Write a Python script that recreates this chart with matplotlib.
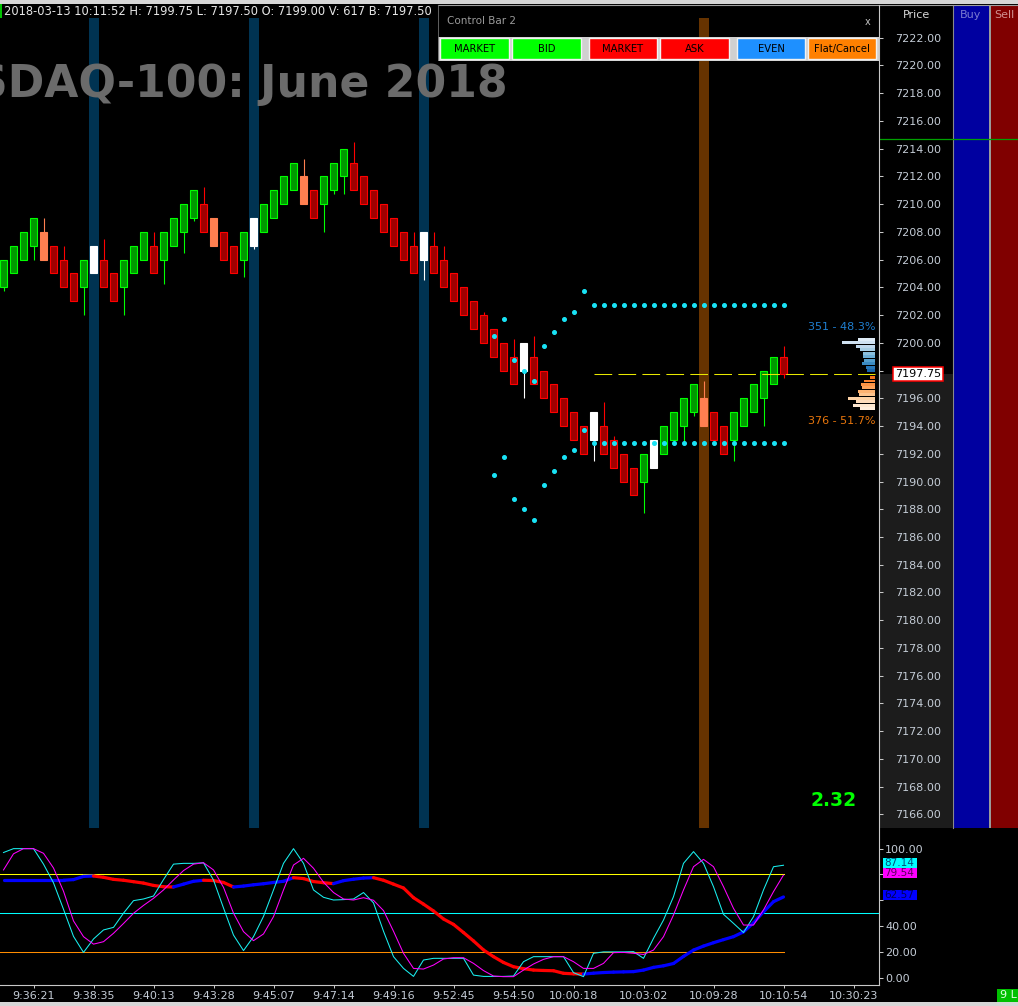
import numpy as np
import matplotlib
matplotlib.use("Agg")
import matplotlib.pyplot as plt
from matplotlib.patches import Rectangle
from matplotlib.collections import LineCollection
from matplotlib.transforms import blended_transform_factory

plt.rcParams['font.family'] = ['DejaVu Sans']

W, H = 1018, 1006

# ---- header info ----
stamp = "2018-03-13 10:11:52"
last_volume = 617
bid_price = 7197.50
chart_title = "NASDAQ-100: June 2018"
ratio_value = 2.32

# ---- renko bars (open / close / high / low) ----
opens = [7204, 7205, 7206, 7207, 7208, 7207, 7206, 7205, 7204, 7205,
         7206, 7205, 7204, 7205, 7206, 7207, 7206, 7207, 7208, 7209,
         7210, 7209, 7208, 7207, 7206, 7207, 7208, 7209, 7210, 7211,
         7212, 7211, 7210, 7211, 7212, 7213, 7212, 7211, 7210, 7209,
         7208, 7207, 7206, 7207, 7206, 7205, 7204, 7203, 7202, 7201,
         7200, 7199, 7198, 7199, 7198, 7197, 7196, 7195, 7194, 7193,
         7194, 7193, 7192, 7191, 7190, 7191, 7192, 7193, 7194, 7195,
         7196, 7195, 7194, 7193, 7194, 7195, 7196, 7197, 7199]
closes = [7206, 7207, 7208, 7209, 7206, 7205, 7204, 7203, 7206, 7207,
          7204, 7203, 7206, 7207, 7208, 7205, 7208, 7209, 7210, 7211,
          7208, 7207, 7206, 7205, 7208, 7209, 7210, 7211, 7212, 7213,
          7210, 7209, 7212, 7213, 7214, 7211, 7210, 7209, 7208, 7207,
          7206, 7205, 7208, 7205, 7204, 7203, 7202, 7201, 7200, 7199,
          7198, 7197, 7200, 7197, 7196, 7195, 7194, 7193, 7192, 7195,
          7192, 7191, 7190, 7189, 7192, 7193, 7194, 7195, 7196, 7197,
          7194, 7193, 7192, 7195, 7196, 7197, 7198, 7199, 7197.75]
highs = [7206, 7207, 7208, 7209, 7209, 7207, 7207, 7205, 7206, 7207,
         7207.5, 7205, 7206, 7207, 7208, 7208, 7208, 7209, 7210, 7211,
         7211.25, 7209, 7208, 7207, 7208, 7209, 7210, 7211, 7212, 7213,
         7213.25, 7211, 7212, 7213, 7214, 7214.5, 7212, 7211, 7210, 7209,
         7208, 7208, 7208, 7208, 7207, 7205, 7204, 7203, 7202.25, 7201,
         7200, 7200.25, 7200, 7200.5, 7198, 7197, 7196, 7195, 7194, 7195,
         7195.75, 7193.25, 7192, 7191, 7192, 7193, 7194, 7195, 7196, 7197,
         7197.25, 7195, 7194, 7195, 7196, 7197, 7198, 7199, 7199.75]
lows = [7203.75, 7205, 7206, 7206, 7206, 7205, 7204, 7203, 7202, 7205,
        7204, 7203, 7202, 7205, 7206, 7205, 7204.25, 7207, 7206.5, 7208.75,
        7208, 7207, 7206, 7205, 7204.75, 7206.75, 7208, 7209, 7210, 7211,
        7210, 7209, 7208, 7210.75, 7210.75, 7211, 7210, 7209, 7208, 7207,
        7206, 7205, 7204.5, 7205, 7204, 7203, 7202, 7201, 7200, 7199,
        7198, 7197, 7196, 7197, 7196, 7195, 7194, 7193, 7192, 7191.5,
        7192, 7191, 7190, 7189, 7187.75, 7191, 7192, 7193, 7192.75, 7194.75,
        7194, 7193, 7192, 7191.5, 7194, 7195, 7194, 7197, 7197.5]
white_bars = [9, 25, 42, 52, 59, 65]
orange_bars = [4, 21, 30, 70]
blue_bands = [9, 25, 42]
brown_bands = [70]

# ---- cyan channel dots ----
channel_idx = [49, 50, 51, 52, 53, 54, 55, 56, 57, 58]
channel_upper = [7200.5, 7201.75, 7198.75, 7198.0, 7197.25,
                 7199.75, 7200.75, 7201.75, 7202.25, 7203.75]
channel_lower = [7190.5, 7191.75, 7188.75, 7188.0, 7187.25,
                 7189.75, 7190.75, 7191.75, 7192.25, 7193.75]
level_idx = [59, 60, 61, 62, 63, 64, 65, 66, 67, 68,
             69, 70, 71, 72, 73, 74, 75, 76, 77, 78]
level_upper = [7202.75] * 20
level_lower = [7192.75] * 20

# ---- volume profile ----
buy_levels = [7200.25, 7200.0, 7199.75, 7199.5, 7199.25,
              7199.0, 7198.75, 7198.5, 7198.25, 7198.0]
buy_volume = [40, 78, 44, 35, 28, 29, 27, 30, 22, 18]
sell_levels = [7197.5, 7197.25, 7197.0, 7196.75, 7196.5,
               7196.25, 7196.0, 7195.75, 7195.5, 7195.25]
sell_volume = [13, 25, 34, 30, 40, 38, 64, 45, 52, 35]

# ---- oscillator ----
stoch_k = [97, 100, 100, 100, 88, 73.5, 53, 32, 19.6, 30,
           37, 39, 50, 59.7, 61, 63.3, 76, 88, 88.6, 88.6,
           89, 75.7, 54, 33, 21, 31.8, 47.5, 68, 88.6, 100,
           88.6, 68, 62.3, 60.2, 60.5, 61, 66, 58, 36, 16.3,
           7.2, 1, 13.7, 15, 15, 15, 15, 2, 1, 1,
           1, 1.3, 12.4, 16.3, 16.3, 16.3, 16.3, 3.9, 0.8, 18.9,
           20, 20, 20, 20.2, 15, 30.5, 44.7, 62.8, 88.6, 97.7,
           88.6, 70.5, 49.1, 42.1, 35, 47.3, 68, 86, 87.14]
stoch_d = [83.5, 96, 100, 100, 96.4, 85, 67, 44, 31.8, 26,
           27.9, 34.4, 42, 49.9, 56, 61.5, 68, 75.7, 83, 88,
           89.1, 83.5, 70, 50, 35.7, 28.7, 33.9, 47.3, 68, 87.3,
           92.5, 84.8, 74, 66, 61, 60.2, 62, 60, 52, 36,
           18.9, 7.2, 6.7, 9.8, 14.5, 15.5, 15.5, 11.1, 5.5, 1.3,
           0.8, 0.8, 5.9, 10.6, 14.2, 16.3, 16.3, 12.4, 7.2, 7.2,
           11.1, 19.4, 19.6, 18.9, 18, 21.4, 31.8, 48.6, 68, 86,
           91.7, 86, 70.5, 53.7, 40.8, 40.8, 52.5, 66.7, 79.54]
trend = [75.5, 75.5, 75.5, 75.5, 75.5, 75.5, 75.5, 76.0, 78.5, 78.8,
         77.8, 76.2, 75.5, 74.4, 73.3, 71.5, 70.5, 70.3, 72.5, 74.7,
         75.5, 75.3, 73.8, 70.3, 71.0, 72.0, 72.8, 73.8, 74.7, 77.5,
         76.8, 74.5, 73.6, 72.9, 75.2, 76.3, 77.2, 77.5, 75.5, 72.5,
         69.5, 62.0, 57.0, 51.7, 45.5, 41.3, 35.0, 28.5, 21.5, 16.3,
         11.8, 8.5, 7.0, 5.9, 5.6, 5.4, 3.4, 3.0, 2.8, 3.5,
         4.0, 4.3, 4.5, 4.7, 5.9, 8.0, 9.2, 11.0, 16.5, 21.4,
         24.5, 27.1, 29.5, 31.8, 35.5, 42.5, 51.0, 58.9, 62.57]

time_tick_idx = [3, 9, 15, 21, 27, 33, 39, 45, 51, 57, 64, 71, 78, 85]
time_labels = ["9:36:21", "9:38:35", "9:40:13", "9:43:28", "9:45:07",
               "9:47:14", "9:49:16", "9:52:45", "9:54:50", "10:00:18",
               "10:03:02", "10:09:28", "10:10:54", "10:30:23"]
price_ticks = list(range(7166, 7223, 2))
osc_ticks = [0, 20, 40, 60, 80, 100]
osc_levels = [80, 50, 20]

button_labels = ["MARKET", "BID", "MARKET", "ASK", "EVEN", "Flat/Cancel"]
button_colors = ["#00ff00", "#00ff00", "#ff0000", "#ff0000", "#1e90ff", "#ff8000"]
button_left = [439.5, 511.5, 588, 659.5, 736, 807]


def px_rect(x0, y0, x1, y1):
    return [x0 / W, 1 - y1 / H, (x1 - x0) / W, (y1 - y0) / H]


fig = plt.figure(figsize=(W / 100, H / 100), dpi=100, facecolor="black")

bg = fig.add_axes([0, 0, 1, 1], zorder=0)
bg.set_xlim(0, W)
bg.set_ylim(H, 0)
bg.axis("off")

ax = fig.add_axes(px_rect(0, 18, 879, 828), zorder=1)
osc = fig.add_axes(px_rect(0, 828, 879, 985), zorder=1)

ui = fig.add_axes([0, 0, 1, 1], zorder=3)
ui.set_xlim(0, W)
ui.set_ylim(H, 0)
ui.axis("off")

x = np.arange(len(opens))
xlim = (-0.35, 87.55)

# ---------------- price panel ----------------
ax.set_facecolor("black")
ax.set_xlim(*xlim)
ax.set_ylim(7165.02, 7223.42)
for s in ax.spines.values():
    s.set_visible(False)

for i in blue_bands:
    ax.axvspan(i - 0.5, i + 0.5, color="#003352", lw=0, zorder=0)
for i in brown_bands:
    ax.axvspan(i - 0.5, i + 0.5, color="#663300", lw=0, zorder=0)

ax.text(508 / 879, 1 - (97 - 18) / 810, chart_title, transform=ax.transAxes,
        ha="right", va="baseline", fontsize=31.8, fontweight="bold",
        color="#6b6b6b", zorder=0.5)

fills, edges = [], []
for i in range(len(opens)):
    if i in white_bars:
        fills.append("#ffffff"); edges.append("#ffffff")
    elif i in orange_bars:
        fills.append("#ff7f50"); edges.append("#ff7f50")
    elif closes[i] > opens[i]:
        fills.append("#009a00"); edges.append("#00ff00")
    else:
        fills.append("#a00000"); edges.append("#ff0000")

ax.vlines(x, lows, highs, colors=edges, lw=0.8, zorder=2)
ax.bar(x, np.array(closes) - np.array(opens), bottom=opens, width=0.66,
       color=fills, edgecolor=edges, linewidth=0.8, zorder=3)

dot_c = "#19e3f5"
ax.plot(channel_idx, channel_upper, "o", ms=2.6, color=dot_c, zorder=4)
ax.plot(channel_idx, channel_lower, "o", ms=2.6, color=dot_c, zorder=4)
ax.plot(level_idx, level_upper, "o", ms=2.6, color=dot_c, zorder=4)
ax.plot(level_idx, level_lower, "o", ms=2.6, color=dot_c, zorder=4)

prof_right = 87.15
last = closes[-1]
ax.plot([level_idx[0], prof_right], [last, last], color="#e8e800", lw=0.75,
        ls=(0, (17, 6)), zorder=4)

scale = 3.3 / max(buy_volume)
bw = np.array(buy_volume) * scale
sw = np.array(sell_volume) * scale
ax.barh(buy_levels, bw, left=prof_right - bw, height=0.21,
        color=plt.cm.Blues(np.linspace(0.12, 0.8, len(buy_levels))), zorder=4)
ax.barh(sell_levels, sw, left=prof_right - sw, height=0.21,
        color=plt.cm.Oranges(np.linspace(0.6, 0.06, len(sell_levels))), zorder=4)

tot_b, tot_s = sum(buy_volume), sum(sell_volume)
ax.text(prof_right, max(buy_levels) + 0.9,
        f"{tot_b} - {100 * tot_b / (tot_b + tot_s):.1f}%",
        ha="right", va="center", fontsize=8, color="#1f7fd0", zorder=5)
ax.text(prof_right, min(sell_levels) - 0.85,
        f"{tot_s} - {100 * tot_s / (tot_b + tot_s):.1f}%",
        ha="right", va="center", fontsize=8, color="#e8760c", zorder=5)

tr = blended_transform_factory(ax.transAxes, ax.transData)
ylo = ax.get_ylim()[0]
ax.add_patch(Rectangle((1.0, ylo), (953 - 879) / 879, last - ylo, transform=tr,
                       facecolor="#1c1c1c", lw=0, clip_on=False, zorder=0))
ax.text(1 + (918 - 879) / 879, last, f"{last:.2f}", transform=tr,
        ha="center", va="center", fontsize=8, color="black", clip_on=False,
        bbox=dict(boxstyle="square,pad=0.15", fc="white", ec="red", lw=1.1),
        zorder=6)

# tick labels hidden under the last-price box are left blank, as on screen
ax.yaxis.tick_right()
ax.set_yticks(price_ticks)
ax.set_yticklabels(["" if abs(p - last) < 1 else f"{p:.2f}" for p in price_ticks])
ax.tick_params(axis="y", colors="#c8c8c8", labelcolor="#c4ccd6", length=2.9,
               width=0.75, pad=8.6, labelsize=8)
ax.set_xticks([])

# ---------------- oscillator panel ----------------
osc.set_facecolor("black")
osc.set_xlim(*xlim)
osc.set_ylim(-5.66, 116.0)
for s in osc.spines.values():
    s.set_visible(False)

osc.plot([xlim[0], x[-1]], [osc_levels[0]] * 2, color="#ffff00", lw=0.75, zorder=1)
osc.plot(list(xlim), [osc_levels[1]] * 2, color="#00ffff", lw=0.75, zorder=1)
osc.plot([xlim[0], x[-1]], [osc_levels[2]] * 2, color="#ff8c00", lw=0.75, zorder=1)

pts = np.column_stack([x, trend])
segs = np.stack([pts[:-1], pts[1:]], axis=1)
seg_cols = ["#ff0000" if trend[i + 1] < trend[i] else "#0000ff"
            for i in range(len(trend) - 1)]
osc.add_collection(LineCollection(segs, colors=seg_cols, linewidths=2.3,
                                  capstyle="round", zorder=2))
osc.plot(x, stoch_k, color="#19f0f0", lw=0.75, zorder=3)
osc.plot(x, stoch_d, color="#ff00ff", lw=0.75, zorder=3)

last_vals = [trend[-1], stoch_k[-1], stoch_d[-1]]
osc.yaxis.tick_right()
osc.set_yticks(osc_ticks)
osc.set_yticklabels(["" if min(abs(v - lv - 1.5) for lv in last_vals) < 6
                     else f"{v:.2f}" for v in osc_ticks])
osc.tick_params(axis="y", colors="#c8c8c8", labelcolor="#c4ccd6", length=2.9,
                width=0.75, pad=1.4, labelsize=8)
osc.set_xticks(time_tick_idx)
osc.set_xticklabels(time_labels)
osc.tick_params(axis="x", colors="#c8c8c8", labelcolor="#c4ccd6", length=2.2,
                width=0.75, pad=2, labelsize=8)

tro = blended_transform_factory(osc.transAxes, osc.transData)
box_h = 10.5 / 1.29
for val, fc, tc in [(trend[-1], "#0000ff", "#00005a"),
                    (stoch_k[-1], "#00ffff", "#00507a"),
                    (stoch_d[-1], "#ff00ff", "#5a005a")]:
    yc = val + 1.5
    osc.add_patch(Rectangle((1 + 3.5 / 879, yc - box_h / 2), 34 / 879, box_h,
                            transform=tro, fc=fc, lw=0, clip_on=False, zorder=6))
    osc.text(1 + 20.5 / 879, yc, f"{val:.2f}", transform=tro,
             ha="center", va="center", fontsize=7.5, color=tc, clip_on=False,
             zorder=7)

# ---------------- right DOM columns ----------------
bg.add_patch(Rectangle((953, 5), 36, 823, fc="#0000a0", lw=0))
bg.add_patch(Rectangle((989, 5), 2, 823, fc="#9a9a9a", lw=0))
bg.add_patch(Rectangle((991, 5), 27, 823, fc="#800000", lw=0))
bg.plot([953, 953], [5, 828], color="#8a8a8a", lw=0.8)
bg.plot([879, W], [139.3, 139.3], color="#00a000", lw=0.9)
bg.text(917, 15, "Price", ha="center", va="center", fontsize=8, color="#d8d8d8")
bg.text(971, 15, "Buy", ha="center", va="center", fontsize=8, color="#7a7ad0")
bg.text(1004, 15, "Sell", ha="center", va="center", fontsize=8, color="#d09090")

# ---------------- frame / header / control bar ----------------
ui.add_patch(Rectangle((0, 0), W, 3.5, fc="#d6d6d6", lw=0))
ui.add_patch(Rectangle((0, 1002), W, 4, fc="#d6d6d6", lw=0))
ui.add_patch(Rectangle((0, 4), 2, 14, fc="#00c000", lw=0))
ui.plot([438, W], [5, 5], color="#a0a0a0", lw=0.8)
ui.plot([438, 438], [5, 60], color="#707070", lw=0.6)
ui.plot([879.5, 879.5], [5, 985], color="#c8c8c8", lw=0.8)
ui.plot([0, 879.5], [985, 985], color="#c8c8c8", lw=0.8)

header = (f"{stamp} H: {highs[-1]:.2f} L: {lows[-1]:.2f} O: {opens[-1]:.2f} "
          f"V: {last_volume} B: {bid_price:.2f}")
ui.text(4, 11.5, header, ha="left", va="center", fontsize=8.3, color="#e6e6e6")

ui.text(447, 21, "Control Bar 2", ha="left", va="center", fontsize=7.5,
        color="#9a9a9a")
ui.text(868, 22, "x", ha="center", va="center", fontsize=7, color="#c0c0c0")
ui.add_patch(Rectangle((438, 36.5), 441, 24, fc="#d0d0d0", lw=0))
for lbl, col, left in zip(button_labels, button_colors, button_left):
    ui.add_patch(Rectangle((left + 1, 38), 68.5, 21, fc=col, ec="#f2f2f2", lw=1))
    ui.text(left + 35, 48.5, lbl, ha="center", va="center", fontsize=7.2,
            color="black")

ui.text(857, 800, f"{ratio_value:.2f}", ha="right", va="center", fontsize=13.5,
        fontweight="bold", color="#00ff00")

ui.add_patch(Rectangle((997, 989), 21, 13, fc="#00c000", lw=0))
ui.text(1000, 995.5, "9 L", ha="left", va="center", fontsize=8, color="#e0ffe0",
        clip_on=True)

fig.savefig("out.png", dpi=100, facecolor="black")
